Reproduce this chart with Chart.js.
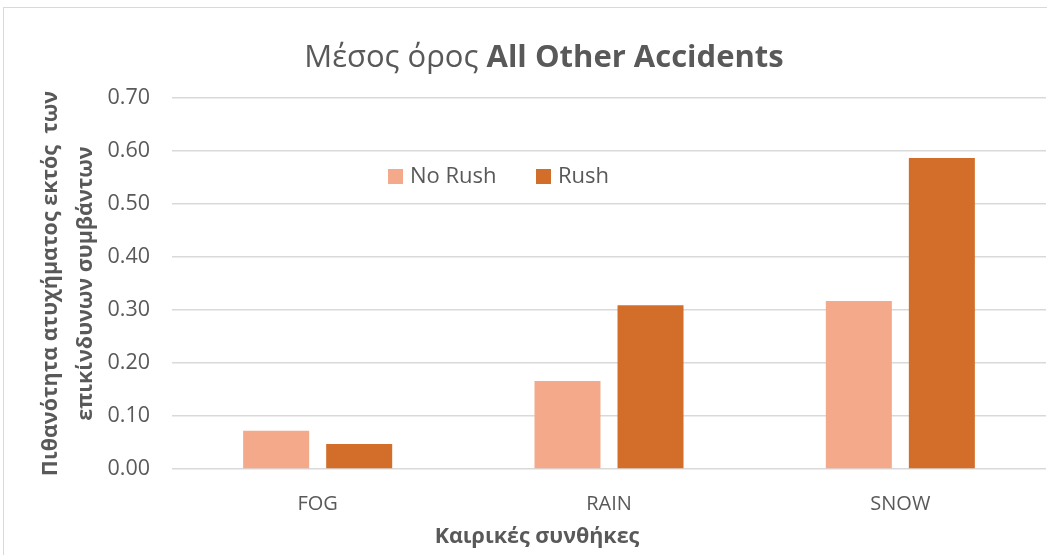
<!DOCTYPE html>
<html>
<head>
<meta charset="utf-8">
<script src="https://cdn.jsdelivr.net/npm/chart.js"></script>
<style>
  body { margin: 0; background: #fff; overflow: hidden; }
  #frame { position: absolute; left: 3px; top: 7px; width: 1100px; height: 600px; border: 1.5px solid #d9d9d9; }
  #wrap { position: absolute; left: 0; top: 0; width: 1047px; height: 555px; }
</style>
</head>
<body>
<div id="frame"></div>
<div id="wrap"><canvas id="barchart"></canvas></div>
<script>
var categories = ['FOG', 'RAIN', 'SNOW'];
var noRush = [0.072, 0.166, 0.317];
var rush = [0.047, 0.309, 0.587];
var seriesNames = ['No Rush', 'Rush'];
var seriesColors = ['#F3A98A', '#D36E2A'];
var xTitle = 'Καιρικές συνθήκες';

var textColor = '#595959';
var fontFamily = '"Open Sans", sans-serif';

// title with a regular part and a bold part, legend inside the plot, x title
var customText = {
  id: 'customText',
  afterDraw: function(chart) {
    var ctx = chart.ctx;
    ctx.save();
    ctx.fillStyle = textColor;
    ctx.textBaseline = 'middle';
    ctx.textAlign = 'left';
    var part1 = 'Μέσος όρος ';
    var part2 = 'All Other Accidents';
    ctx.font = '31px ' + fontFamily;
    var w1 = ctx.measureText(part1).width;
    ctx.font = 'bold 31px ' + fontFamily;
    var w2 = ctx.measureText(part2).width;
    var x = 544 - (w1 + w2) / 2;
    ctx.font = '31px ' + fontFamily;
    ctx.fillText(part1, x, 58);
    ctx.font = 'bold 31px ' + fontFamily;
    ctx.fillText(part2, x + w1, 58);

    // legend
    ctx.font = '22px ' + fontFamily;
    var lx = [388, 536];
    chart.data.datasets.forEach(function(ds, i) {
      ctx.fillStyle = ds.backgroundColor;
      ctx.fillRect(lx[i], 169, 15, 15);
      ctx.fillStyle = textColor;
      ctx.fillText(ds.label, lx[i] + 22, 177);
    });

    // x axis title
    ctx.textAlign = 'center';
    ctx.font = 'bold 21.5px ' + fontFamily;
    ctx.fillText(xTitle, 537, 537);
    ctx.restore();
  }
};

var ctx = document.getElementById('barchart').getContext('2d');
var myChart = new Chart(ctx, {
  type: 'bar',
  data: {
    labels: categories,
    datasets: [{
      label: seriesNames[0],
      data: noRush,
      backgroundColor: seriesColors[0]
    }, {
      label: seriesNames[1],
      data: rush,
      backgroundColor: seriesColors[1]
    }]
  },
  options: {
    responsive: true,
    maintainAspectRatio: false,
    animation: false,
    categoryPercentage: 0.57,
    barPercentage: 0.795,
    layout: { padding: { top: 98, right: 1, bottom: 0, left: 0 } },
    plugins: {
      legend: { display: false },
      title: { display: false },
      tooltip: { enabled: false }
    },
    scales: {
      x: {
        grid: { display: false },
        border: { display: false },
        ticks: { color: textColor, font: { family: fontFamily, size: 20 }, padding: 15 },
        afterFit: function(scale) { scale.height = 86; }
      },
      y: {
        min: 0,
        max: 0.7,
        grid: { color: '#d9d9d9', lineWidth: 1.5, drawTicks: false },
        border: { display: false },
        ticks: {
          stepSize: 0.1,
          color: textColor,
          font: { family: fontFamily, size: 21.5 },
          padding: 22,
          callback: function(v) { return v.toFixed(2); }
        },
        title: {
          display: true,
          text: ['Πιθανότητα ατυχήματος εκτός  των', 'επικίνδυνων συμβάντων'],
          color: textColor,
          font: { family: fontFamily, size: 21.5, weight: 'bold', lineHeight: 1.65 },
          padding: { top: 33, bottom: 0 }
        },
        afterFit: function(scale) { scale.width = 172; }
      }
    }
  },
  plugins: [customText]
});
</script>
</body>
</html>
